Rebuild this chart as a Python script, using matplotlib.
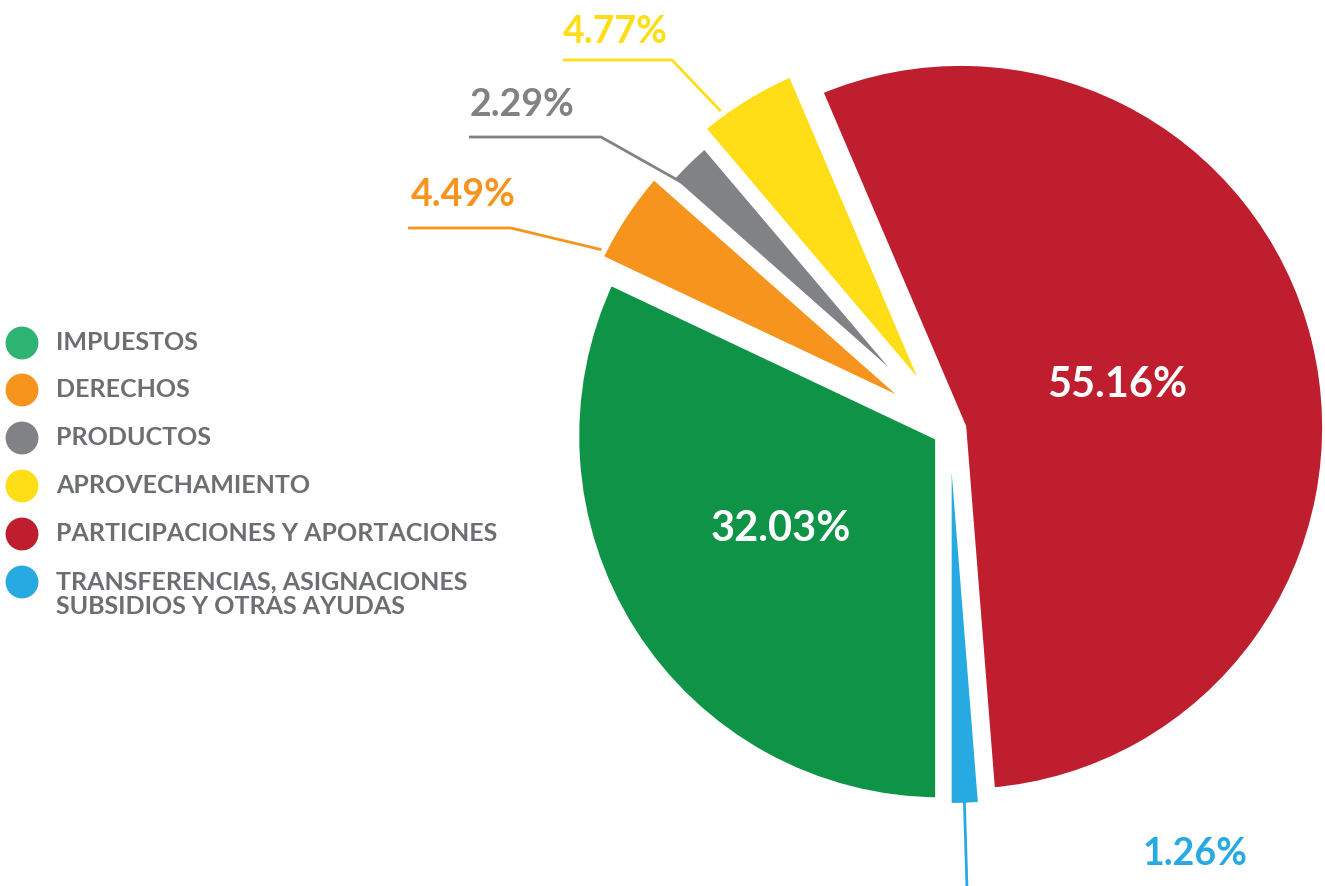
import matplotlib
matplotlib.use("Agg")
import matplotlib.pyplot as plt
import numpy as np

# data
categorias = ["IMPUESTOS", "DERECHOS", "PRODUCTOS", "APROVECHAMIENTO",
              "PARTICIPACIONES Y APORTACIONES",
              "TRANSFERENCIAS, ASIGNACIONES\nSUBSIDIOS Y OTRAS AYUDAS"]
porcentajes = [32.03, 4.49, 2.29, 4.77, 55.16, 1.26]
colores = ["#0F9447", "#F7941E", "#808285", "#FFDD17", "#BE1E2D", "#27AAE1"]
colores_leyenda = ["#2DB473", "#F7941E", "#808285", "#FFDD17", "#BE1E2D", "#27AAE1"]
explode = [0.03, 0.07, 0.03, 0.07, 0.03, 0.02]

plt.rcParams['font.family'] = ['Lato', 'DejaVu Sans']
W, H = 1325, 886
fig = plt.figure(figsize=(W / 100, H / 100), dpi=100)

# background axes in pixel coords for legend
bg = fig.add_axes([0, 0, 1, 1])
bg.set_xlim(0, W)
bg.set_ylim(H, 0)
bg.axis("off")

# pie axes: center (950, 430) px, radius 367 px
cx, cy, R = 950, 430, 367
span = 1.3
side = 2 * span * R
ax = fig.add_axes([(cx - side / 2) / W, ((H - cy) - side / 2) / H, side / W, side / H])

wedges, _ = ax.pie(porcentajes, colors=colores, explode=explode, startangle=270,
                   counterclock=False, radius=1.0,
                   wedgeprops=dict(edgecolor="white", linewidth=8))
for w in wedges:
    w.set_clip_on(False)
# thin slice keeps a thinner outline so it stays visible
wedges[5].set_linewidth(2)
wedges[5].set_zorder(0)
# pie() resets the limits, so set them afterwards
ax.set_xlim(-span, span)
ax.set_ylim(-span, span)
ax.axis("off")


def px(x, y):
    return (x - cx) / R, (cy - y) / R


def fmt(v):
    return f"{v:.2f}%"


def punto_en(w, frac_ang, frac_r):
    a = np.deg2rad(w.theta1 + frac_ang * (w.theta2 - w.theta1))
    c = w.center
    return c[0] + frac_r * w.r * np.cos(a), c[1] + frac_r * w.r * np.sin(a)


# labels inside big wedges
ax.text(*px(1117, 385), fmt(porcentajes[4]), color="white", fontsize=30,
        fontweight="bold", ha="center", va="center")
ax.text(*px(781, 529), fmt(porcentajes[0]), color="white", fontsize=30,
        fontweight="bold", ha="center", va="center")

# outside labels with leader lines
externos = [
    (3, (615, 32), [(563, 60), (672, 60)], 0.75, 1.0),
    (2, (522, 105), [(469, 137), (601, 137)], 0.8, 0.93),
    (1, (463, 195), [(408, 228), (511, 228)], 0.9, 1.0),
]
for i, (tx, ty), pts, fa, fr in externos:
    ax.text(*px(tx, ty), fmt(porcentajes[i]), color=colores[i], fontsize=27,
            fontweight="bold", ha="center", va="center", clip_on=False)
    xs = [px(x, y)[0] for x, y in pts]
    ys = [px(x, y)[1] for x, y in pts]
    ex, ey = punto_en(wedges[i], fa, fr)
    ax.plot(xs + [ex], ys + [ey], color=colores[i], lw=2, clip_on=False,
            solid_capstyle="butt")

# blue label: nearly vertical leader going down out of the figure
ax.text(*px(1195, 854), fmt(porcentajes[5]), color=colores[5], fontsize=27,
        fontweight="bold", ha="center", va="center", clip_on=False)
bx, by = punto_en(wedges[5], 0.5, 0.9)
ax.plot([bx, bx + 0.01], [by, px(0, 890)[1]], color=colores[5], lw=2, clip_on=False)

# legend
filas_y = [343, 390, 438, 486, 534, 582]
for nombre, col, y in zip(categorias, colores_leyenda, filas_y):
    bg.scatter([22], [y], s=560, color=col, edgecolors="none")
    bg.text(56, y - 12, nombre, color="#6D6E71", fontsize=18, fontweight="bold",
            ha="left", va="top", linespacing=1.1)

fig.savefig("out.png", dpi=100)
